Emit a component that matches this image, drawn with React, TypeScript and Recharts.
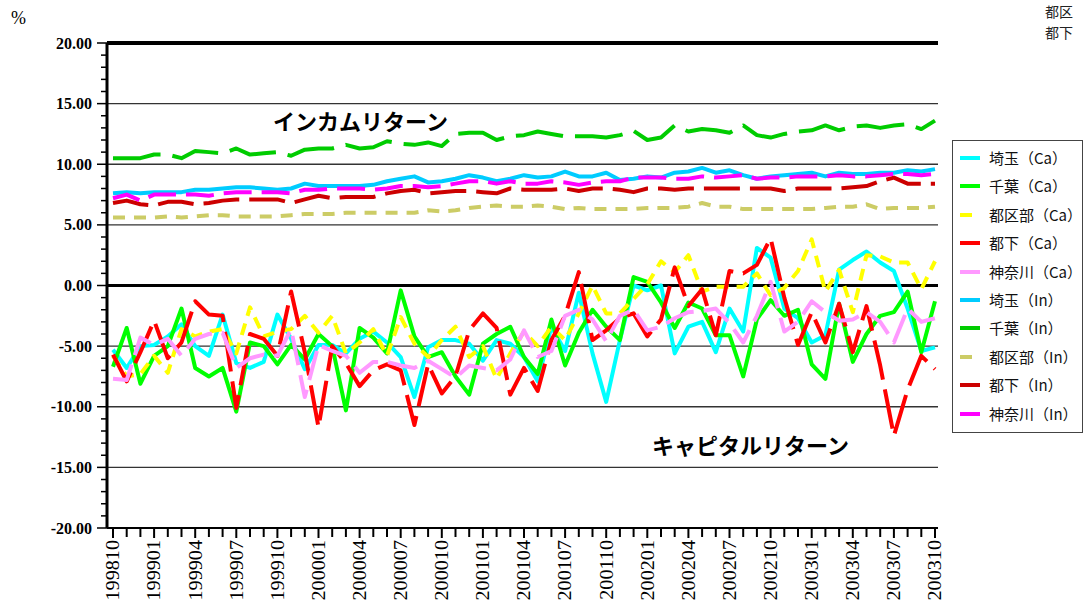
import React from "react"
import { LineChart, Line, XAxis, YAxis, ReferenceLine } from "recharts"

const months = [
  "199810", "199811", "199812", "199901", "199902", "199903", "199904", "199905", "199906", "199907", "199908", "199909",
  "199910", "199911", "199912", "200001", "200002", "200003", "200004", "200005", "200006", "200007", "200008", "200009",
  "200010", "200011", "200012", "200101", "200102", "200103", "200104", "200105", "200106", "200107", "200108", "200109",
  "200110", "200111", "200112", "200201", "200202", "200203", "200204", "200205", "200206", "200207", "200208", "200209",
  "200210", "200211", "200212", "200301", "200302", "200303", "200304", "200305", "200306", "200307", "200308", "200309",
  "200310",
]

const labeledMonths = [
  "199810", "199901", "199904", "199907", "199910", "200001", "200004", "200007", "200010", "200101", "200104",
  "200107", "200110", "200201", "200204", "200207", "200210", "200301", "200304", "200307", "200310",
]

const yMajorTicks = [-20, -15, -10, -5, 0, 5, 10, 15, 20]
const yMinorTicks = Array.from({ length: 41 }, (_, i) => i - 20)
const gridValues = [15, 10, 5, -5, -10, -15]

// capital return (Ca)
const saitamaCa = [
  -5.3, -6.8, -5.0, -4.9, -4.2, -3.2, -5.0, -5.8, -2.4, -6.4, -6.8, -6.3, -2.4, -4.4, -6.9, -4.9, -4.9, -5.6, -4.4, -3.8, -4.7, -5.9,
  -9.2, -5.1, -4.5, -4.5, -4.8, -6.2, -4.5, -4.8, -5.9, -7.9, -3.4, -5.4, -0.6, -5.6, -9.6, -4.5, 0.0, -0.4, 0.0, -5.6, -3.4,
  -3.0, -5.5, -1.9, -3.8, 3.1, 2.3, -1.9, -2.7, -4.7, -4.1, 1.3, 2.1, 2.8, 1.9, 1.2, -1.9, -5.4, -5.1,
]
const chibaCa = [
  -6.7, -3.5, -8.1, -5.8, -5.0, -1.9, -6.8, -7.5, -6.8, -10.4, -4.7, -5.0, -6.5, -4.9, -6.1, -4.0, -5.0, -10.3, -3.5, -4.3, -5.6, -0.4,
  -4.2, -5.9, -5.5, -7.5, -9.0, -4.8, -4.0, -3.4, -5.9, -7.3, -2.8, -6.6, -3.9, -2.0, -3.4, -4.5, 0.7, 0.3, -1.4, -3.5, -1.4,
  -1.9, -4.1, -4.1, -7.5, -2.8, -1.2, -2.5, -2.0, -6.5, -7.7, -1.5, -6.3, -4.0, -2.5, -2.2, -0.5, -5.5, -1.3,
]
const tokuCa = [
  -5.8, -7.5, -7.3, -5.8, -7.2, -3.6, -4.2, -3.8, -3.6, -5.6, -1.8, -4.2, -3.8, -3.6, -2.5, -3.9, -2.5, -5.6, -4.7, -3.6, -5.8, -2.6,
  -4.8, -5.9, -4.5, -3.4, -5.9, -5.0, -7.7, -5.6, -3.8, -5.0, -3.4, -4.5, -2.3, 0.0, -2.3, -2.3, -1.1, 0.1, 2.0, 1.1, 2.5,
  -0.5, -0.1, -0.1, -0.1, 1.0, -0.8, -0.2, 1.2, 3.8, -0.5, 1.3, -2.2, 2.5, 2.4, 1.9, 1.9, -0.3, 2.0,
]
const tokaCa = [
  -5.7, -7.9, -5.5, -2.9, -6.0, -4.7, -1.3, -2.4, -2.5, -10.1, -4.0, -4.4, -5.8, -0.5, -5.5, -11.7, -5.0, -6.4, -8.3, -7.0, -6.5, -7.0,
  -11.5, -6.5, -8.9, -7.5, -3.7, -2.3, -3.5, -9.0, -6.8, -8.7, -4.5, -2.5, 1.1, -4.5, -3.7, -2.7, -2.3, -4.2, -2.8, 1.5, -1.7,
  -0.3, -4.1, 1.2, 1.0, 1.7, 3.9, -1.0, -4.9, -2.2, -4.7, -1.5, -5.5, -1.7, -6.6, -12.4, -8.6, -5.8, -6.9,
]
const kanaCa = [
  -7.7, -7.8, -4.3, -4.9, -4.4, -5.8, -4.4, -4.0, -3.9, -6.8, -6.0, -5.7, -5.8, -3.6, -9.2, -4.9, -5.4, -5.8, -7.2, -6.3, -6.3, -6.6,
  -6.8, -6.2, -6.9, -7.6, -6.6, -6.8, -7.0, -6.1, -3.7, -5.9, -5.4, -2.5, -2.0, -2.8, -4.6, -2.5, -2.0, -3.7, -3.4, -2.7, -2.2,
  -2.1, -1.9, -3.1, -4.7, -2.5, 0.3, -3.8, -3.0, -1.3, -2.2, -2.9, -2.8, -2.2, -3.0, -4.7, -1.9, -3.0, -2.7,
]

// income return (In)
const saitamaIn = [
  7.6, 7.7, 7.6, 7.7, 7.7, 7.7, 7.9, 7.9, 8.0, 8.1, 8.1, 8.0, 7.9, 8.0, 8.4, 8.2, 8.2, 8.2, 8.2, 8.3, 8.6, 8.8,
  9.0, 8.5, 8.6, 8.8, 9.1, 8.9, 8.6, 8.8, 9.1, 8.9, 9.0, 9.4, 9.0, 9.0, 9.3, 8.7, 8.8, 9.0, 8.9, 9.3, 9.4,
  9.7, 9.3, 9.5, 9.1, 8.8, 9.0, 9.1, 9.2, 9.3, 9.0, 9.3, 9.2, 9.2, 9.3, 9.3, 9.5, 9.4, 9.6,
]
const chibaIn = [
  10.5, 10.5, 10.5, 10.8, 10.8, 10.5, 11.1, 11.0, 10.9, 11.3, 10.8, 10.9, 11.0, 10.7, 11.2, 11.3, 11.3, 11.6, 11.3, 11.4, 11.9, 11.7,
  11.6, 11.8, 11.5, 12.5, 12.6, 12.6, 12.0, 12.3, 12.4, 12.7, 12.5, 12.3, 12.3, 12.3, 12.2, 12.4, 12.75, 12.0, 12.2, 13.2, 12.7,
  12.9, 12.8, 12.6, 13.2, 12.4, 12.2, 12.5, 12.7, 12.8, 13.2, 12.8, 13.1, 13.2, 13.0, 13.2, 13.3, 12.9, 13.6,
]
const tokuIn = [
  5.6, 5.6, 5.6, 5.6, 5.7, 5.6, 5.7, 5.8, 5.8, 5.7, 5.7, 5.7, 5.7, 5.8, 5.9, 5.9, 5.9, 6.0, 6.0, 6.0, 6.0, 6.0,
  6.0, 6.2, 6.1, 6.2, 6.4, 6.5, 6.6, 6.5, 6.5, 6.6, 6.5, 6.3, 6.4, 6.3, 6.3, 6.3, 6.3, 6.4, 6.4, 6.4, 6.5,
  6.8, 6.5, 6.5, 6.3, 6.3, 6.3, 6.3, 6.3, 6.3, 6.4, 6.5, 6.5, 6.7, 6.3, 6.4, 6.4, 6.4, 6.5,
]
const tokaIn = [
  6.8, 7.0, 6.7, 6.6, 6.9, 6.9, 6.7, 6.8, 7.0, 7.1, 7.1, 7.1, 7.1, 6.8, 7.1, 7.4, 7.2, 7.3, 7.3, 7.3, 7.6, 7.8,
  7.9, 7.6, 7.7, 7.8, 7.8, 7.7, 7.6, 8.0, 7.9, 7.9, 7.9, 8.0, 7.8, 8.0, 8.0, 7.9, 7.7, 8.0, 8.0, 7.9, 8.0,
  8.0, 8.0, 8.0, 8.0, 8.0, 8.0, 7.8, 8.0, 8.0, 8.0, 8.0, 8.1, 8.2, 8.6, 8.9, 8.4, 8.4, 8.4,
]
const kanaIn = [
  7.2, 7.5, 7.0, 7.5, 7.5, 7.5, 7.5, 7.4, 7.6, 7.7, 7.7, 7.7, 7.7, 7.6, 7.9, 7.9, 8.0, 8.0, 8.0, 7.9, 8.0, 8.2,
  8.2, 8.1, 8.2, 8.4, 8.6, 8.6, 8.4, 8.6, 8.4, 8.4, 8.6, 8.5, 8.3, 8.5, 8.6, 8.6, 8.9, 8.9, 8.9, 8.8, 8.8,
  9.0, 8.9, 9.0, 9.1, 8.8, 8.9, 8.9, 9.0, 9.0, 9.0, 9.1, 9.0, 9.0, 9.1, 9.2, 9.2, 9.1, 9.2,
]

const SERIES = [
  { key: "saitamaCa", name: "埼玉（Ca）", values: saitamaCa, color: "#00FFFF", dash: undefined },
  { key: "chibaCa", name: "千葉（Ca）", values: chibaCa, color: "#00FF00", dash: undefined },
  { key: "tokuCa", name: "都区部（Ca）", values: tokuCa, color: "#FFFF00", dash: "12 8" },
  { key: "tokaCa", name: "都下（Ca）", values: tokaCa, color: "#FF0000", dash: "40 10" },
  { key: "kanaCa", name: "神奈川（Ca）", values: kanaCa, color: "#FF99FF", dash: "30 10" },
  { key: "saitamaIn", name: "埼玉（In）", values: saitamaIn, color: "#00CCFF", dash: undefined },
  { key: "chibaIn", name: "千葉（In）", values: chibaIn, color: "#00CC00", dash: "48 12" },
  { key: "tokuIn", name: "都区部（In）", values: tokuIn, color: "#CCCC66", dash: "12 9" },
  { key: "tokaIn", name: "都下（In）", values: tokaIn, color: "#CC0000", dash: "36 10" },
  { key: "kanaIn", name: "神奈川（In）", values: kanaIn, color: "#FF00FF", dash: "28 10" },
]

const chartData = months.map((m, i) => {
  const row: Record<string, string | number> = { month: m }
  SERIES.forEach((s) => {
    row[s.key] = s.values[i]
  })
  return row
})

const JP_FONT = '"Noto Sans CJK JP", "Noto Sans", sans-serif'
const SERIF = '"Liberation Serif", "DejaVu Serif", serif'

function XTick(props: any) {
  const { x, y, payload } = props
  const labeled = labeledMonths.includes(payload.value)
  const ty = y + 12
  return (
    <g>
      <line x1={x} x2={x} y1={y} y2={y + (labeled ? 10 : 9)} stroke="#000" strokeWidth={2} />
      {labeled && (
        // rotated to read bottom-to-top, stretched a little along its length like the original
        <text
          x={0}
          y={0}
          dy="0.35em"
          transform={`translate(${x} ${ty}) rotate(-90) scale(1.12 1)`}
          textAnchor="end"
          fontFamily={SERIF}
          fontSize={18}
          fill="#000"
        >
          {payload.value}
        </text>
      )}
    </g>
  )
}

function YTick(props: any) {
  const { x, y, payload } = props
  const v = payload.value as number
  const major = yMajorTicks.includes(v)
  return (
    <g>
      <line x1={x - (major ? 10 : 6)} x2={x} y1={y} y2={y} stroke="#000" strokeWidth={1.5} />
      {major && (
        <text
          x={x - 15}
          y={y}
          dy="0.35em"
          textAnchor="end"
          fontFamily={SERIF}
          fontWeight="bold"
          fontSize={16}
          fill="#000"
        >
          {v.toFixed(2)}
        </text>
      )}
    </g>
  )
}

function Legend() {
  return (
    <div
      style={{
        position: "absolute",
        left: 952,
        top: 140,
        width: 131,
        height: 293,
        border: "1px solid #444",
        boxSizing: "border-box",
        background: "#fff",
      }}
    >
      {SERIES.map((s, i) => (
        <div
          key={s.key}
          style={{
            position: "absolute",
            left: 0,
            top: 17 + i * 28.4 - 10,
            height: 20,
            display: "flex",
            alignItems: "center",
          }}
        >
          <svg width={36} height={20} style={{ display: "block" }}>
            <line x1={7} x2={27} y1={10} y2={10} stroke={s.color} strokeWidth={4} strokeDasharray={s.dash} />
          </svg>
          <span style={{ fontFamily: JP_FONT, fontSize: 15, color: "#111", whiteSpace: "nowrap", lineHeight: "20px" }}>
            {s.name}
          </span>
        </div>
      ))}
    </div>
  )
}

const cornerText = {
  position: "absolute" as const,
  left: 1045,
  fontFamily: JP_FONT,
  fontSize: 14,
  lineHeight: "14px",
  color: "#222",
  whiteSpace: "nowrap" as const,
}

const titleText = {
  position: "absolute" as const,
  fontFamily: JP_FONT,
  fontWeight: "bold" as const,
  fontSize: 22,
  lineHeight: 1,
  color: "#000",
  whiteSpace: "nowrap" as const,
}

export default function App() {
  return (
    <div
      style={{
        position: "absolute",
        left: 0,
        top: 0,
        width: 1085,
        height: 605,
        overflow: "hidden",
        background: "#fff",
      }}
    >
      <LineChart
        width={1085}
        height={605}
        data={chartData}
        margin={{ top: 43, right: 147, bottom: 0, left: 0 }}
      >
        <XAxis
          dataKey="month"
          interval={0}
          tick={XTick}
          tickLine={false}
          tickSize={0}
          tickMargin={0}
          axisLine={{ stroke: "#000", strokeWidth: 2 }}
          padding={{ left: 6, right: 3 }}
          height={77}
        />
        <YAxis
          type="number"
          domain={[-20, 20]}
          ticks={yMinorTicks}
          interval={0}
          tick={YTick}
          tickLine={false}
          tickSize={0}
          tickMargin={0}
          width={107}
          axisLine={{ stroke: "#000", strokeWidth: 3 }}
          allowDataOverflow
        />
        <YAxis
          yAxisId="r"
          orientation="right"
          type="number"
          domain={[-20, 20]}
          width={0}
          tick={false}
          tickLine={false}
          axisLine={{ stroke: "#000", strokeWidth: 2 }}
        />
        {gridValues.map((g) => (
          <ReferenceLine key={g} y={g} stroke="#333" strokeWidth={1.3} />
        ))}
        <ReferenceLine y={0} stroke="#000" strokeWidth={3} />
        <ReferenceLine y={20} stroke="#000" strokeWidth={4} />
        {SERIES.map((s) => (
          <Line
            key={s.key}
            dataKey={s.key}
            name={s.name}
            stroke={s.color}
            strokeWidth={4}
            strokeDasharray={s.dash}
            strokeLinejoin="round"
            dot={false}
            activeDot={false}
            isAnimationActive={false}
          />
        ))}
      </LineChart>

      <div style={{ position: "absolute", left: 11, top: 9, fontFamily: SERIF, fontSize: 18, lineHeight: 1 }}>%</div>
      <div style={{ ...cornerText, top: 4 }}>都区</div>
      <div style={{ ...cornerText, top: 25 }}>都下</div>

      <div style={{ ...titleText, left: 273, top: 109 }}>インカムリターン</div>
      <div style={{ ...titleText, left: 652, top: 433 }}>キャピタルリターン</div>

      <Legend />
    </div>
  )
}
